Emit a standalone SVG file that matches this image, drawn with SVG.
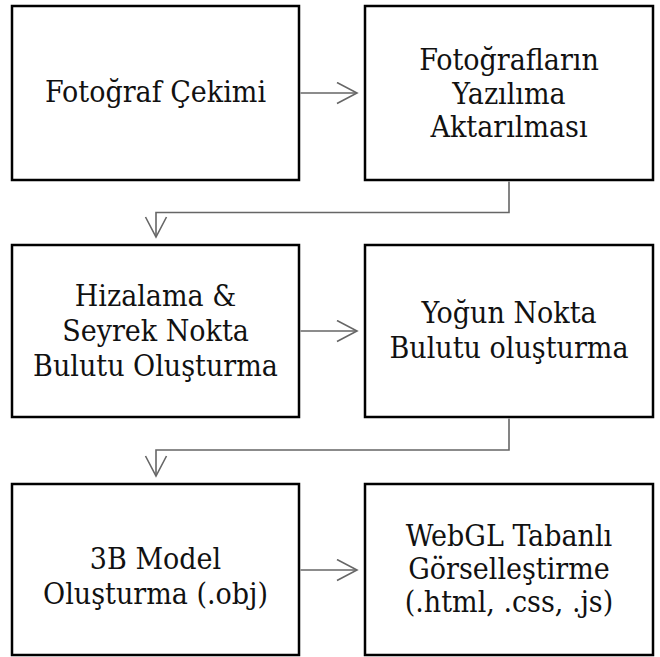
<svg xmlns="http://www.w3.org/2000/svg" width="660" height="657" viewBox="0 0 660 657">
<style>
.box{fill:#fff;stroke:#000;stroke-width:2.5}
.lbl{font-family:"DejaVu Serif Condensed","DejaVu Serif",serif;font-stretch:condensed;font-size:30px;fill:#111;text-anchor:middle}
.con{fill:none;stroke:#666;stroke-width:1.6}
</style>
<defs>
<marker id="arr" markerUnits="userSpaceOnUse" markerWidth="24" markerHeight="26" refX="21" refY="11.5" orient="auto" viewBox="0 0 24 26">
<path d="M1,1 L21,11.5 L1,22" fill="none" stroke="#666" stroke-width="1.6"/>
</marker>
</defs>
<rect width="660" height="657" fill="#fff"/>
<g id="n1"><rect class="box" x="12" y="6" width="287" height="174"/><text class="lbl" x="155.5" y="101.5">Fotoğraf Çekimi</text></g>
<g id="n2"><rect class="box" x="365" y="6" width="288" height="174"/><text class="lbl" x="509" y="70">Fotoğrafların</text><text class="lbl" x="509" y="103.5">Yazılıma</text><text class="lbl" x="509" y="137">Aktarılması</text></g>
<g id="n3"><rect class="box" x="12" y="245" width="287" height="172"/><text class="lbl" x="155.5" y="306">Hizalama &amp;</text><text class="lbl" x="155.5" y="341">Seyrek Nokta</text><text class="lbl" x="155.5" y="376">Bulutu Oluşturma</text></g>
<g id="n4"><rect class="box" x="365" y="245" width="288" height="172"/><text class="lbl" x="509" y="323">Yoğun Nokta</text><text class="lbl" x="509" y="358">Bulutu oluşturma</text></g>
<g id="n5"><rect class="box" x="12" y="484" width="287" height="171"/><text class="lbl" x="155.5" y="569">3B Model</text><text class="lbl" x="155.5" y="604">Oluşturma (.obj)</text></g>
<g id="n6"><rect class="box" x="365" y="484" width="288" height="171"/><text class="lbl" x="509" y="546">WebGL Tabanlı</text><text class="lbl" x="509" y="579">Görselleştirme</text><text class="lbl" x="509" y="612">(.html, .css, .js)</text></g>
<g id="connectors">
<path class="con" d="M300.5,93 H357" marker-end="url(#arr)"/>
<path class="con" d="M509,181.5 V212.5 H156 V237" marker-end="url(#arr)"/>
<path class="con" d="M300.5,331 H357" marker-end="url(#arr)"/>
<path class="con" d="M509,418.5 V450 H156 V476" marker-end="url(#arr)"/>
<path class="con" d="M300.5,570 H357" marker-end="url(#arr)"/>
</g>
</svg>
